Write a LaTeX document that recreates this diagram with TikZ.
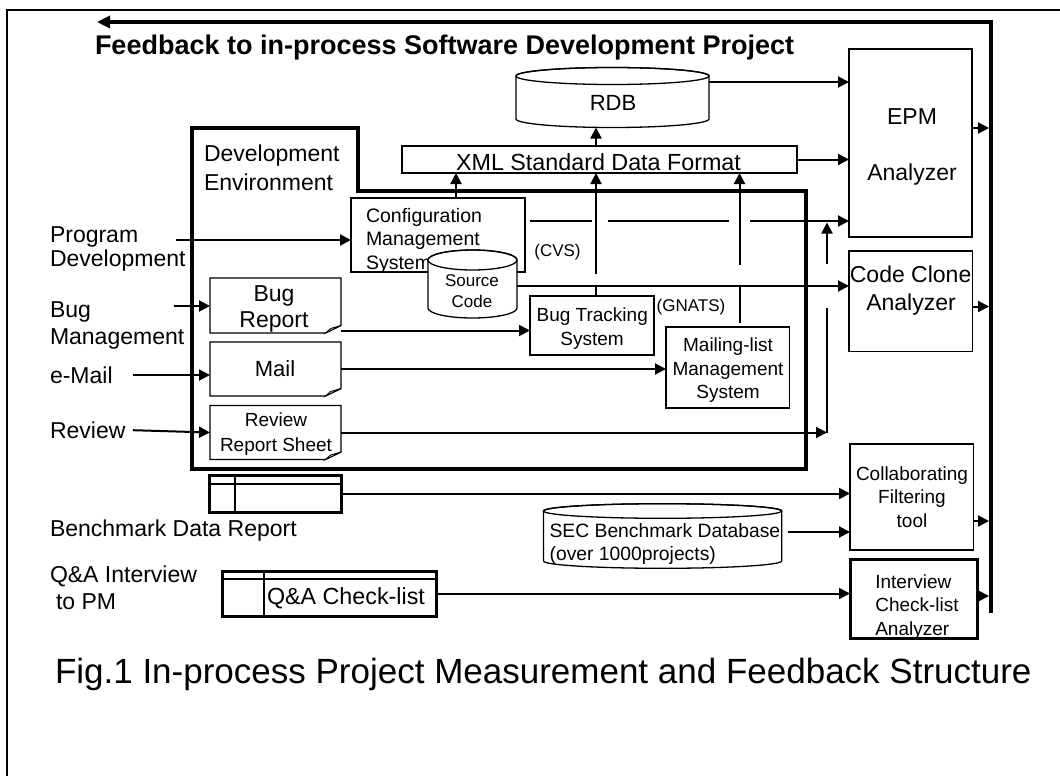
\documentclass[tikz,border=0pt]{standalone}
\usepackage{fontspec}
\setmainfont{Liberation Sans}
\usetikzlibrary{arrows.meta,calc}
\newcommand\myfs[1]{\fontsize{#1pt}{#1pt}\selectfont}
\newcommand\mycyl[5]{%
\begin{scope}[shift={(#1,#2)},y=1pt]
\draw[line width=1.3pt, fill=white] (-#3,#4) -- (-#3,0) arc[start angle=180,end angle=360,x radius=#3,y radius=#5] -- (#3,#4) arc[start angle=0,end angle=180,x radius=#3,y radius=#5] -- cycle;
\draw[line width=1.3pt] (0,#4) ellipse [x radius=#3, y radius=#5];
\end{scope}}
\newcommand\mydoc[1]{%
\draw[line width=1.3pt, fill=white] (#1.north west) -- (#1.north east) -- ([yshift=7.5pt]#1.south east) -- ([xshift=-15.5pt]#1.south east) -- (#1.south west) -- cycle;
\draw[line width=0.8pt, fill=black!25] ([xshift=-15.5pt]#1.south east) -- ([xshift=-10.5pt,yshift=4.5pt]#1.south east) -- ([yshift=7.5pt]#1.south east) -- cycle;}
\tikzset{
 lbl/.style={inner sep=0, outer sep=0, anchor=base},
 lblw/.style={inner sep=0, outer sep=0, anchor=base west},
 box/.style={draw, line width=1.3pt, fill=white, inner sep=0, outer sep=0},
 ghost/.style={inner sep=0, outer sep=0},
 con/.style={line width=2pt},
 arr/.style={con, -{Triangle[length=11pt,width=11pt]}},
 tbl/.style={draw, line width=3pt, fill=white, inner sep=0, outer sep=0},
}
\begin{document}
\begin{tikzpicture}[x=1pt,y=-1pt]
\useasboundingbox (0,0) rectangle (1060,776);
% frame
\draw[line width=2pt] (7,776) -- (7,10) -- (1060,10);
% feedback line
\coordinate (fbB) at (991,613);
\coordinate (fbT) at (991,22);
\coordinate (fbL) at (97,22);
\draw[line width=4pt, -{Triangle[length=13pt,width=12pt]}] (fbB) -- (fbT) -- (fbL);
\coordinate (fbx) at (989,0);
\node[lblw, font=\bfseries\myfs{27}] (title) at (95,55) {Feedback to in-process Software Development Project};

% development environment
\draw[line width=4pt] (192,128) -- (358,128) -- (358,191) -- (806,191) -- (806,469) -- (192,469) -- cycle;
\node[lblw, font=\myfs{23}] (devA) at (204,161.5) {Development};
\node[lblw, font=\myfs{23}] (devB) at (204,190) {Environment};

% left labels
\node[lblw, font=\myfs{23}] (lprogA) at (50,242) {Program};
\node[lblw, font=\myfs{23}] (lprogB) at (50,266.4) {Development};
\node[lblw, font=\myfs{23}] (lbugA) at (50,317) {Bug};
\node[lblw, font=\myfs{23}] (lbugB) at (50,344.7) {Management};
\node[lblw, font=\myfs{23}] (lmail) at (50,383.6) {e-Mail};
\node[lblw, font=\myfs{23}] (lrev) at (50,438.6) {Review};
\node[lblw, font=\myfs{23}] (lbench) at (50,536.5) {Benchmark Data Report};
\node[lblw, font=\myfs{23}] (lqaA) at (50,582.5) {Q\&A Interview};
\node[lblw, font=\myfs{23}] (lqaB) at (56,609) {to PM};

% RDB and XML
\mycyl{612.5}{119}{96.5}{43}{8.5}
\node[ghost, minimum width=193pt, minimum height=60pt] (rdb) at (612.5,97.5) {};
\node[lbl, font=\myfs{22}] (rdbt) at (613,110.8) {RDB};
\node[box, minimum width=395pt, minimum height=27pt] (xml) at (599.5,159.5) {};
\node[lbl, font=\myfs{23.3}] (xmlt) at (598.5,170) {XML Standard Data Format};

% analyzers
\node[box, minimum width=123pt, minimum height=188pt] (epm) at (910.5,143) {};
\node[lbl, font=\myfs{23}] (epmA) at (912,124) {EPM};
\node[lbl, font=\myfs{23}] (epmB) at (912,180) {Analyzer};
\node[box, minimum width=123.6pt, minimum height=100.5pt] (cca) at (910.8,301.2) {};
\node[lbl, font=\myfs{23}] (ccaA) at (910.6,282) {Code Clone};
\node[lbl, font=\myfs{23}] (ccaB) at (911,310.3) {Analyzer};
\node[box, minimum width=123.6pt, minimum height=106pt] (cft) at (911.8,497) {};
\node[lbl, font=\myfs{19}] (cftA) at (912,480.2) {Collaborating};
\node[lbl, font=\myfs{19}] (cftB) at (912,503.8) {Filtering};
\node[lbl, font=\myfs{19}] (cftC) at (912,527.4) {tool};
\node[box, line width=3pt, minimum width=127pt, minimum height=78.5pt] (ica) at (913.5,598.8) {};
\node[lblw, font=\myfs{19}] (icaA) at (875.3,588.2) {Interview};
\node[lblw, font=\myfs{19}] (icaB) at (875.3,611.9) {Check-list};
\node[lblw, font=\myfs{19}] (icaC) at (875.3,635.5) {Analyzer};

% configuration management system
\node[box, minimum width=174pt, minimum height=74pt] (cms) at (438,235) {};
\node[lblw, font=\myfs{19.5}] (cmsA) at (366,222.7) {Configuration};
\node[lblw, font=\myfs{19.5}] (cmsB) at (366,245.7) {Management};
\node[lblw, font=\myfs{19.5}] (cmsC) at (366,269.3) {System};
\mycyl{472.5}{308}{44.5}{48}{10}
\node[ghost, minimum width=89pt, minimum height=67.5pt] (src) at (472.5,283.75) {};
\node[lbl, font=\myfs{17}] (srcA) at (472,286.7) {Source};
\node[lbl, font=\myfs{17}] (srcB) at (472,307.7) {Code};
\node[lbl, font=\myfs{17}] (cvs) at (557.5,256.7) {(CVS)};

% bug tracking, mailing list
\node[box, minimum width=124pt, minimum height=59pt] (bts) at (592,325.5) {};
\node[lbl, font=\myfs{19}] (btsA) at (592.2,321.7) {Bug Tracking};
\node[lbl, font=\myfs{19}] (btsB) at (592,345) {System};
\node[lbl, font=\myfs{17}] (gnats) at (691,311.6) {(GNATS)};
\node[box, minimum width=123.5pt, minimum height=81pt] (mls) at (727.75,367.5) {};
\node[lbl, font=\myfs{19}] (mlsA) at (728,351.5) {Mailing-list};
\node[lbl, font=\myfs{19}] (mlsB) at (728,375) {Management};
\node[lbl, font=\myfs{19}] (mlsC) at (728,398.8) {System};

% documents
\node[ghost, minimum width=131pt, minimum height=55pt] (br) at (275.5,305.5) {};
\node[ghost, minimum width=131pt, minimum height=54pt] (ml) at (275.5,369) {};
\node[ghost, minimum width=131pt, minimum height=54pt] (rv) at (275.5,432.5) {};
\mydoc{br}
\mydoc{ml}
\mydoc{rv}
\node[lbl, font=\myfs{23}] (brA) at (274,301.8) {Bug};
\node[lbl, font=\myfs{23}] (brB) at (274,327.8) {Report};
\node[lbl, font=\myfs{22}] (mlA) at (275,376.8) {Mail};
\node[lbl, font=\myfs{19}] (rvA) at (276,426.5) {Review};
\node[lbl, font=\myfs{19}] (rvB) at (276,451) {Report Sheet};

% tables
\node[tbl, minimum width=131.5pt, minimum height=37pt] (bdr) at (275.25,493.5) {};
\draw[line width=2.5pt] ([xshift=25.5pt]bdr.north west) -- ([xshift=25.5pt]bdr.south west);
\draw[line width=2pt] ([yshift=-8.5pt]bdr.north west) -- ([yshift=-8.5pt]bdr.north east);
\node[tbl, minimum width=214.5pt, minimum height=45pt] (qa) at (329.25,593.5) {};
\draw[line width=2.5pt] ([xshift=42pt]qa.north west) -- ([xshift=42pt]qa.south west);
\draw[line width=2pt] ([yshift=-8pt]qa.north west) -- ([yshift=-8pt]qa.north east);
\node[lblw, font=\myfs{23.3}] (qat) at (267,604.5) {Q\&A Check-list};

% SEC database
\mycyl{662.6}{561}{119.1}{50}{7.3}
\node[ghost, minimum width=238.2pt, minimum height=64.5pt] (sec) at (662.6,536.25) {};
\node[lblw, font=\myfs{19.3}] (secA) at (549.6,537.6) {SEC Benchmark Database};
\node[lblw, font=\myfs{19.3}] (secB) at (549.6,560.5) {(over 1000projects)};

% helper coordinates
\coordinate (v0) at (456,0);
\coordinate (v1) at (596,0);
\coordinate (v2) at (739.5,0);
\coordinate (v3) at (827,0);
\coordinate (h82) at (0,82);
\coordinate (h128) at (0,128);
\coordinate (h286) at (0,286);
\coordinate (h306) at (0,306.5);
\coordinate (h330) at (0,330.5);
\coordinate (h521) at (0,521);
\coordinate (h596) at (0,596);

% input arrows
\coordinate (aprog) at (176,240);
\draw[arr] (aprog) -- (aprog -| cms.west);
\coordinate (abug) at (174,306);
\draw[arr] (abug) -- (abug -| br.west);
\coordinate (amail) at (133,375);
\draw[arr] (amail) -- (amail -| ml.west);
\coordinate (arev) at (133,430.2);
\draw[arr] (arev) -- (rv.west);

% internal connectors
\draw[arr] (cms.north -| v0) -- (xml.south -| v0);
\draw[arr] (xml.north -| v1) -- (rdb.south -| v1);
\draw[arr] (rdb.east |- h82) -- (epm.west |- h82);
\draw[arr] (xml.east) -- (epm.west |- xml.east);

\coordinate (s0) at (530,221);
\coordinate (s1) at (592,221);
\coordinate (s2) at (608,221);
\coordinate (s3) at (729,221);
\coordinate (s4) at (750,221);
\draw[con] (s0) -- (s1);
\draw[con] (s2) -- (s3);
\draw[arr] (s4) -- (epm.west |- s4);

\draw[arr] (src.east |- h286) -- (cca.west |- h286);

\draw[con] (bts.north -| v1) -- (v1 |- h286);
\coordinate (b1) at (596,274);
\draw[arr] (b1) -- (xml.south -| v1);

\coordinate (m1) at (739.5,323);
\coordinate (m2) at (739.5,265);
\draw[con] (m1) -- (v2 |- h286);
\draw[arr] (m2) -- (xml.south -| v2);

\draw[arr] (br.east |- h330) -- (bts.west |- h330);
\draw[arr] (ml.east) -- (mls.west |- ml.east);
\draw[arr] (rv.east) -- (v3 |- rv.east);
\coordinate (r1) at (827,307.6);
\coordinate (r2) at (827,264);
\coordinate (r3) at (827,222.5);
\draw[con] (v3 |- rv.east) -- (r1);
\draw[arr] (r2) -- (r3);

\draw[arr] (bdr.east) -- (cft.west |- bdr.east);
\coordinate (sq) at (788,532);
\draw[arr] (sq) -- (cft.west |- sq);
\draw[arr] (qa.east) -- (ica.west |- qa.east);

% outputs to feedback
\draw[arr] (epm.east |- h128) -- (fbx |- h128);
\draw[arr] (cca.east |- h306) -- (fbx |- h306);
\draw[arr] (cft.east |- h521) -- (fbx |- h521);
\draw[arr] (ica.east |- h596) -- (fbx |- h596);

% caption
\node[lblw, font=\myfs{35}] (cap) at (55,683) {Fig.1 In-process Project Measurement and Feedback Structure};
\end{tikzpicture}
\end{document}
